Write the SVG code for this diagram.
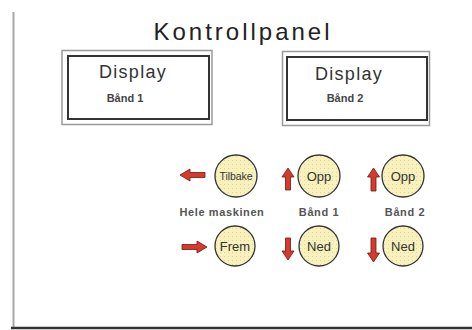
<svg xmlns="http://www.w3.org/2000/svg" width="472" height="330" viewBox="0 0 472 330">
  <defs>
    <pattern id="dots" width="4" height="4" patternUnits="userSpaceOnUse">
      <rect width="4" height="4" fill="#f8f1bc"/>
      <rect x="0" y="0" width="1" height="1" fill="#ddd3a0"/>
    </pattern>
  </defs>
  <style>
    text { font-family: "Liberation Sans", Arial, sans-serif; fill: #2a2a2a; text-anchor: middle; }
    .title { font-size: 24px; letter-spacing: 3px; fill: #222; }
    .disp { font-size: 18px; letter-spacing: 1.3px; fill: #333; }
    .sub { font-size: 11px; font-weight: bold; fill: #444; }
    .lbl { font-size: 11px; font-weight: bold; letter-spacing: 0.6px; fill: #555; }
    .btn { font-size: 13px; fill: #333; }
    .small { font-size: 10.5px; letter-spacing: -0.1px; fill: #333; }
    .outer { fill: #ffffff; stroke: #9a9a9a; stroke-width: 1.5; }
    .inner { fill: #ffffff; stroke: #333333; stroke-width: 2; }
    .knob { fill: url(#dots); stroke: #333333; stroke-width: 1.3; }
    .arrow { fill: #d63a2c; stroke: #6a1a12; stroke-width: 0.8; }
  </style>

  <rect width="472" height="330" fill="#ffffff"/>

  <!-- panel frame -->
  <g id="frame">
    <line x1="13.5" y1="12" x2="13.5" y2="328" stroke="#a8a8a8" stroke-width="2"/>
    <line x1="11" y1="328" x2="472" y2="328" stroke="#333333" stroke-width="2.5"/>
  </g>

  <text class="title" x="243" y="40">Kontrollpanel</text>

  <g id="display1">
    <rect class="outer" x="62" y="50.5" width="150" height="74"/>
    <rect class="inner" x="68" y="56" width="141" height="63"/>
    <text class="disp" x="133" y="78">Display</text>
    <text class="sub" x="125" y="102">Bånd 1</text>
  </g>

  <g id="display2">
    <rect class="outer" x="282.5" y="51.5" width="147" height="74"/>
    <rect class="inner" x="287" y="57" width="140" height="63"/>
    <text class="disp" x="349" y="80">Display</text>
    <text class="sub" x="345" y="102">Bånd 2</text>
  </g>

  <!-- machine controls -->
  <g id="tilbake">
    <circle class="knob" cx="236" cy="176" r="21"/>
    <text class="small" x="236" y="180">Tilbake</text>
  </g>
  <g id="frem">
    <circle class="knob" cx="235" cy="246" r="20"/>
    <text class="btn" x="235" y="251">Frem</text>
  </g>
  <text class="lbl" x="222" y="216">Hele maskinen</text>

  <!-- band 1 controls -->
  <g id="opp1">
    <circle class="knob" cx="319" cy="176" r="21"/>
    <text class="btn" x="319" y="181">Opp</text>
  </g>
  <g id="ned1">
    <circle class="knob" cx="319" cy="246" r="20"/>
    <text class="btn" x="319" y="251">Ned</text>
  </g>
  <text class="lbl" x="319" y="216">Bånd 1</text>

  <!-- band 2 controls -->
  <g id="opp2">
    <circle class="knob" cx="403" cy="176" r="21"/>
    <text class="btn" x="403" y="181">Opp</text>
  </g>
  <g id="ned2">
    <circle class="knob" cx="403" cy="246" r="20"/>
    <text class="btn" x="403" y="251">Ned</text>
  </g>
  <text class="lbl" x="405" y="216">Bånd 2</text>

  <!-- direction arrows -->
  <g id="arrows">
    <polygon class="arrow" points="180,175 190,169 190,172.5 205,172.5 205,177.5 190,177.5 190,181"/>
    <polygon class="arrow" points="207,247 197,241 197,244.5 182,244.5 182,249.5 197,249.5 197,253"/>
    <polygon class="arrow" points="288,168 294,177 290.5,177 290.5,190 285.5,190 285.5,177 282,177"/>
    <polygon class="arrow" points="288,260 294,251 290.5,251 290.5,238 285.5,238 285.5,251 282,251"/>
    <polygon class="arrow" points="373.5,168 379.5,177 376,177 376,191 371,191 371,177 367.5,177"/>
    <polygon class="arrow" points="373.5,262 379.5,253 376,253 376,238 371,238 371,253 367.5,253"/>
  </g>
</svg>
